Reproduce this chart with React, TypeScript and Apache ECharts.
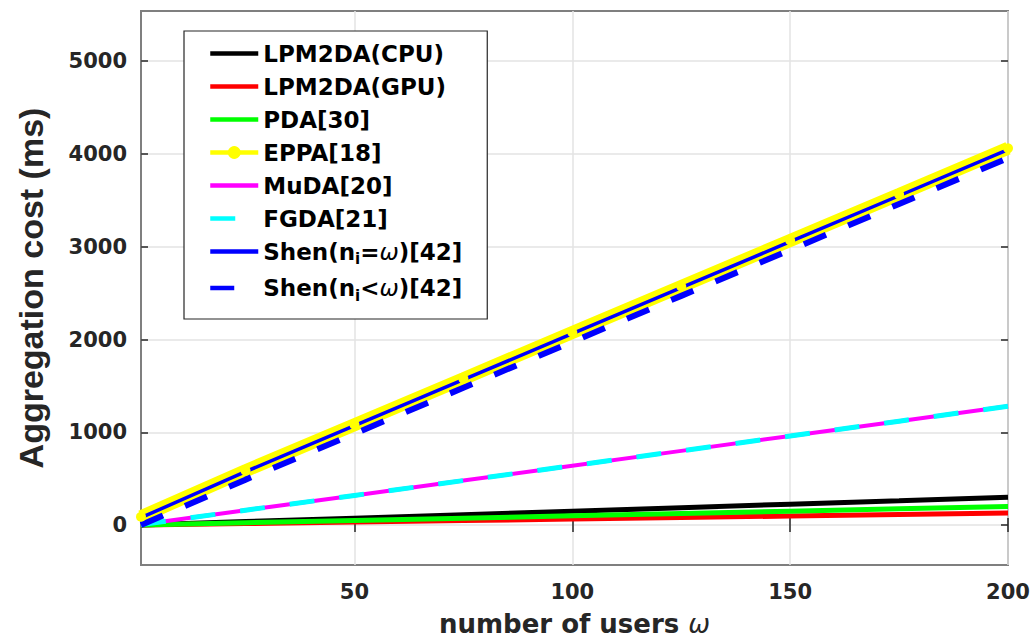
import React, { useEffect, useRef } from "react";
import * as echarts from "echarts";

// ---- data ----
const userCounts = [1, 25, 50, 75, 100, 125, 150, 175, 200];
const lpm2daCpu = [2, 38, 75, 112, 150, 188, 225, 262, 300];
const lpm2daGpu = [1, 16, 33, 49, 65, 82, 98, 114, 130];
const pda30 = [1, 25, 50, 75, 100, 125, 150, 175, 200];
const eppa18 = [90, 586, 1082, 1578, 2075, 2571, 3067, 3563, 4060];
const muda20 = [6, 160, 320, 480, 640, 800, 960, 1120, 1280];
const fgda21 = [6, 160, 320, 480, 640, 800, 960, 1120, 1280];
const shenEq42 = [80, 576, 1071, 1567, 2063, 2558, 3054, 3549, 4045];
const shenLt42 = [0, 490, 985, 1480, 1975, 2470, 2965, 3460, 3955];

const xTicks = [50, 100, 150, 200];
const yTicks = [0, 1000, 2000, 3000, 4000, 5000];

const seriesNames = [
  "LPM2DA(CPU)",
  "LPM2DA(GPU)",
  "PDA[30]",
  "EPPA[18]",
  "MuDA[20]",
  "FGDA[21]",
  "Shen(ni=ω)[42]",
  "Shen(ni<ω)[42]",
];

const TXT = "#262626";
const FONT = "DejaVu Sans";

function pairs(ys: number[]) {
  return userCounts.map((x, i) => [x, ys[i]]);
}

export default function App() {
  const ref = useRef<HTMLDivElement>(null);

  useEffect(() => {
    if (!ref.current) return;
    const chart = echarts.init(ref.current, undefined, { renderer: "svg" });

    const tickLine = { color: TXT, width: 1.5 };
    const labelStyle = {
      color: TXT,
      fontFamily: FONT,
      fontWeight: "bold" as const,
      fontSize: 21,
    };

    const option = {
      animation: false,
      backgroundColor: "#ffffff",
      grid: {
        left: 141,
        right: 22,
        top: 11,
        bottom: 76,
        show: true,
        borderColor: "#7f7f7f",
        borderWidth: 2,
        backgroundColor: "transparent",
        containLabel: false,
        outerBoundsMode: "none",
      },
      xAxis: [
        {
          type: "value",
          min: 1,
          max: 200,
          position: "bottom",
          axisLine: { show: false },
          axisTick: { show: true, inside: true, length: 7, customValues: xTicks, lineStyle: tickLine },
          axisLabel: { ...labelStyle, customValues: xTicks, margin: 16, formatter: (v: number) => String(v) },
          splitLine: { show: true, lineStyle: { color: "#e3e3e3", width: 1.5 } },
          name: "number of users {w|ω}",
          nameLocation: "middle",
          nameGap: 46,
          nameTextStyle: {
            color: TXT,
            fontFamily: FONT,
            fontWeight: "bold",
            fontSize: 26,
            rich: {
              w: { fontFamily: FONT, fontStyle: "italic", fontWeight: "normal", fontSize: 26, color: TXT },
            },
          },
        },
        {
          type: "value",
          min: 1,
          max: 200,
          position: "top",
          axisLine: { show: false },
          axisTick: { show: true, inside: true, length: 7, customValues: xTicks, lineStyle: tickLine },
          axisLabel: { show: false },
          splitLine: { show: false },
        },
      ],
      yAxis: [
        {
          type: "value",
          min: -430,
          max: 5540,
          position: "left",
          axisLine: { show: false },
          axisTick: { show: true, inside: true, length: 7, customValues: yTicks, lineStyle: tickLine },
          axisLabel: { ...labelStyle, customValues: yTicks, margin: 14, formatter: (v: number) => String(v) },
          splitLine: { show: true, lineStyle: { color: "#e3e3e3", width: 1.5 } },
          name: "Aggregation cost (ms)",
          nameLocation: "middle",
          nameGap: 93,
          nameTextStyle: {
            color: TXT,
            fontFamily: "Liberation Sans",
            fontWeight: "bold",
            fontSize: 34,
          },
        },
        {
          type: "value",
          min: -430,
          max: 5540,
          position: "right",
          axisLine: { show: false },
          axisTick: { show: true, inside: true, length: 7, customValues: yTicks, lineStyle: tickLine },
          axisLabel: { show: false },
          splitLine: { show: false },
        },
      ],
      legend: {
        left: 184,
        top: 31,
        orient: "vertical",
        data: seriesNames.map((n) =>
          n === "EPPA[18]" ? { name: n } : { name: n, itemStyle: { opacity: 0 } }
        ),
        backgroundColor: "#ffffff",
        borderColor: TXT,
        borderWidth: 1.2,
        borderRadius: 0,
        padding: [11, 25, 16, 24],
        itemWidth: 48,
        itemHeight: 16,
        itemGap: 10,
        lineStyle: { width: 4.5 },
        textStyle: {
          color: "#000000",
          fontFamily: FONT,
          fontWeight: "bold",
          fontSize: 23,
          rich: {
            sub: { fontFamily: FONT, fontWeight: "bold", fontSize: 15, color: "#000000", padding: [15, 0, 0, 0] },
            w: { fontFamily: FONT, fontStyle: "italic", fontWeight: "normal", fontSize: 23, color: "#000000" },
          },
        },
        formatter: (name: string) => {
          if (name === "Shen(ni=ω)[42]") return "Shen(n{sub|i}={w|ω})[42]";
          if (name === "Shen(ni<ω)[42]") return "Shen(n{sub|i}<{w|ω})[42]";
          return name;
        },
      },
      series: [
        {
          name: seriesNames[0],
          type: "line",
          data: pairs(lpm2daCpu),
          symbol: "none",
          lineStyle: { color: "#000000", width: 5 },
          itemStyle: { color: "#000000" },
        },
        {
          name: seriesNames[1],
          type: "line",
          data: pairs(lpm2daGpu),
          symbol: "none",
          lineStyle: { color: "#ff0000", width: 5 },
          itemStyle: { color: "#ff0000" },
        },
        {
          name: seriesNames[2],
          type: "line",
          data: pairs(pda30),
          symbol: "none",
          lineStyle: { color: "#00ff00", width: 5 },
          itemStyle: { color: "#00ff00" },
        },
        {
          name: seriesNames[3],
          type: "line",
          data: pairs(eppa18),
          symbol: "circle",
          symbolSize: 10,
          lineStyle: { color: "#ffff00", width: 13 },
          itemStyle: { color: "#ffff00", borderWidth: 0 },
        },
        {
          name: seriesNames[4],
          type: "line",
          data: pairs(muda20),
          symbol: "none",
          lineStyle: { color: "#ff00ff", width: 4 },
          itemStyle: { color: "#ff00ff" },
        },
        {
          name: seriesNames[5],
          type: "line",
          data: pairs(fgda21),
          symbol: "none",
          lineStyle: { color: "#00ffff", width: 5, type: [25, 25] },
          itemStyle: { color: "#00ffff" },
        },
        {
          name: seriesNames[6],
          type: "line",
          data: pairs(shenEq42),
          symbol: "none",
          lineStyle: { color: "#0000ff", width: 3.5 },
          itemStyle: { color: "#0000ff" },
        },
        {
          name: seriesNames[7],
          type: "line",
          data: pairs(shenLt42),
          symbol: "none",
          lineStyle: { color: "#0000ff", width: 6, type: [24, 24] },
          itemStyle: { color: "#0000ff" },
        },
      ],
    };

    chart.setOption(option as any);
    return () => chart.dispose();
  }, []);

  return (
    <div
      ref={ref}
      style={{ position: "fixed", left: 0, top: 0, width: 1030, height: 641, background: "#ffffff" }}
    />
  );
}
